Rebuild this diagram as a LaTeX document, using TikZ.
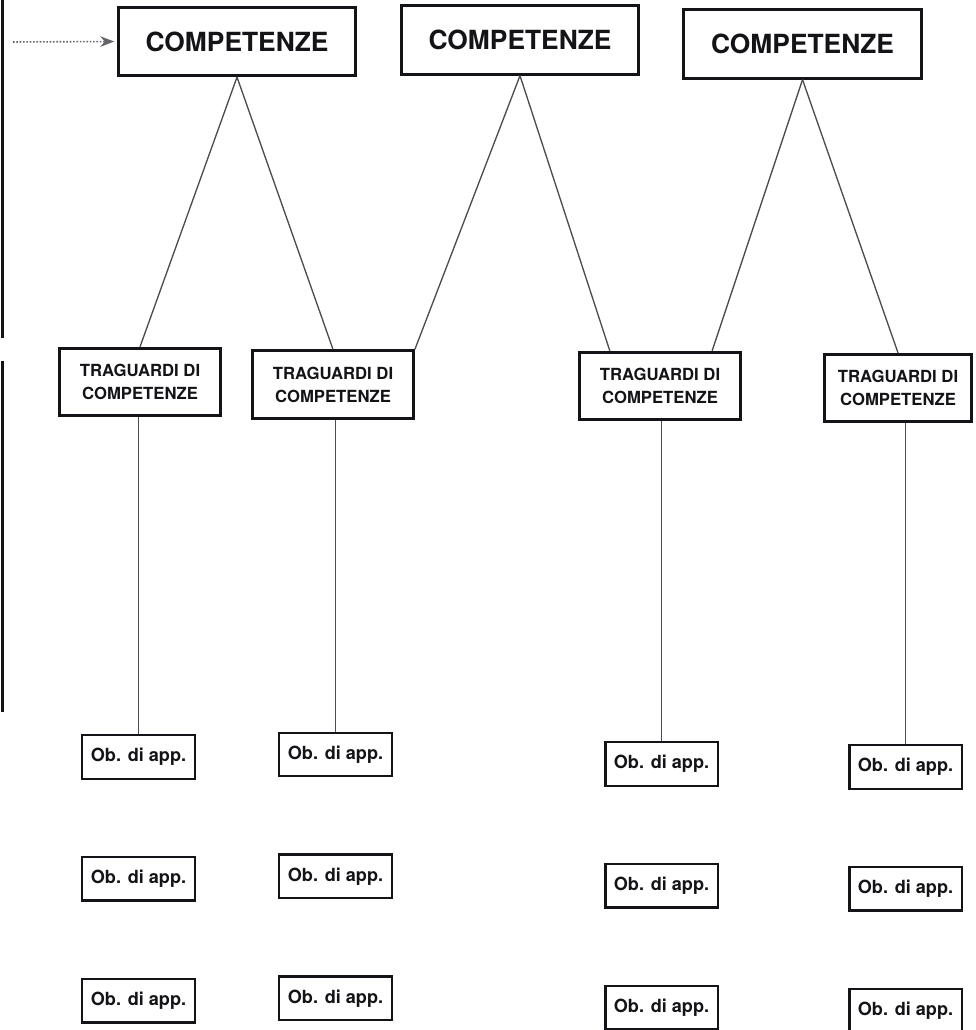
\documentclass[tikz,border=0pt]{standalone}
\usepackage{fontspec}
\setsansfont{TeX Gyre Heros}
\usepackage{tikz}
\usetikzlibrary{arrows.meta, positioning}
\definecolor{inkdark}{RGB}{20,20,24}
\definecolor{linegrey}{RGB}{75,75,80}
\definecolor{arrowgrey}{RGB}{100,100,108}
\tikzset{
  compbox/.style={rectangle, draw=inkdark, fill=white, text=inkdark,
    minimum width=4.75cm, minimum height=1.37cm, line width=1.6pt,
    font=\sffamily\bfseries\fontsize{15}{18}\selectfont},
  tragbox/.style={rectangle, draw=inkdark, fill=white, text=inkdark,
    minimum width=3.22cm, minimum height=1.35cm, line width=1.6pt, align=center,
    font=\sffamily\bfseries\fontsize{9.5}{13}\selectfont},
  obbox/.style={rectangle, draw=inkdark, fill=white, text=inkdark,
    minimum width=2.25cm, minimum height=0.87cm, line width=1.4pt,
    font=\sffamily\bfseries\fontsize{10.3}{12}\selectfont},
  link/.style={line width=0.75pt, color=linegrey},
  edgebar/.style={line width=1.7pt, color=inkdark},
  inarrow/.style={-{Stealth[length=2.8mm, width=2.1mm]}, densely dotted,
    line width=0.9pt, color=arrowgrey, shorten >=1.5pt}
}
\begin{document}
\begin{tikzpicture}[x=0.02cm, y=-0.02cm, node distance=1.52cm]
  \useasboundingbox (0,0) rectangle (975,1030);

  % competenze
  \node[compbox] (c1) at (237,41.5) {COMPETENZE};
  \node[compbox] (c2) at (520,40) {COMPETENZE};
  \node[compbox] (c3) at (802.5,44) {COMPETENZE};

  % traguardi
  \node[tragbox] (t1) at (140,382) {TRAGUARDI DI\\COMPETENZE};
  \node[tragbox] (t2) at (333,384.5) {TRAGUARDI DI\\COMPETENZE};
  \node[tragbox] (t3) at (660,386) {TRAGUARDI DI\\COMPETENZE};
  \node[tragbox, minimum width=2.95cm] (t4) at (898,388) {TRAGUARDI DI\\COMPETENZE};

  % obiettivi di apprendimento
  \node[obbox] (o11) at (138.5,757) {Ob. di app.};
  \node[obbox, below=of o11] (o12) {Ob. di app.};
  \node[obbox, below=of o12] (o13) {Ob. di app.};
  \node[obbox] (o21) at (335.5,754.5) {Ob. di app.};
  \node[obbox, below=of o21] (o22) {Ob. di app.};
  \node[obbox, below=of o22] (o23) {Ob. di app.};
  \node[obbox] (o31) at (661.5,764) {Ob. di app.};
  \node[obbox, below=of o31] (o32) {Ob. di app.};
  \node[obbox, below=of o32] (o33) {Ob. di app.};
  \node[obbox] (o41) at (905.5,767) {Ob. di app.};
  \node[obbox, below=of o41] (o42) {Ob. di app.};
  \node[obbox, below=of o42] (o43) {Ob. di app.};

  % left edge and incoming arrow
  \coordinate (bartop) at (2.5,0);
  \coordinate (barcut) at (2.5,338);
  \coordinate (barrest) at (2.5,361);
  \coordinate (barend) at (2.5,712);
  \coordinate (arrowtail) at (13,42);
  \draw[edgebar] (bartop) -- (barcut);
  \draw[edgebar] (barrest) -- (barend);
  \draw[inarrow] (arrowtail) -- (c1.west);

  \draw[link] (c1.south) -- (t1.north);
  \draw[link] (c1.south) -- (t2.north);
  \draw[link] (c2.south) -- (t2.north east);
  \draw[link] (c2.south) -- (t3.145);
  \draw[link] (c3.south) -- (t3.34);
  \draw[link] (c3.south) -- (t4.north);

  \draw[link] (t1.south -| o11.north) -- (o11.north);
  \draw[link] (t2.south -| o21.north) -- (o21.north);
  \draw[link] (t3.south -| o31.north) -- (o31.north);
  \draw[link] (t4.south -| o41.north) -- (o41.north);
\end{tikzpicture}
\end{document}
